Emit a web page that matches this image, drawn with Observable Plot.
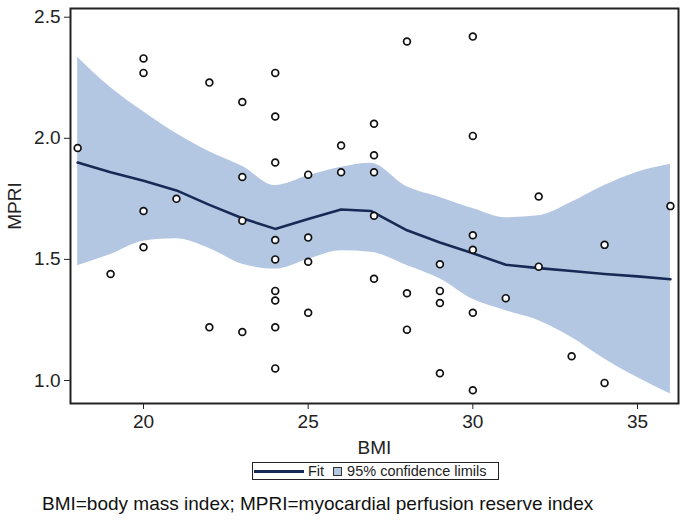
<!DOCTYPE html>
<html>
<head>
<meta charset="utf-8">
<script src="https://cdn.jsdelivr.net/npm/d3@7"></script>
<script src="https://cdn.jsdelivr.net/npm/@observablehq/plot@0.6"></script>
<style>
  html, body { margin: 0; padding: 0; background: #fff; }
  body { width: 685px; height: 522px; position: relative; font-family: "Liberation Sans", Arial, sans-serif; }
  #chart { position: absolute; left: 0; top: 0; }
  #legend { position: absolute; left: 252px; top: 462px; width: 245px; height: 16px; border: 1px solid #222;
            font-size: 14.5px; line-height: 16px; color: #222; display: flex; align-items: center; white-space: nowrap; background: #fff; }
  #legend .ln { display: inline-block; width: 50px; height: 3px; background: #172a55; margin-left: 1px; margin-right: 4px; }
  #legend .sq { display: inline-block; width: 7px; height: 7px; background: #b4c7e2; border: 1px solid #333; margin-left: 9px; margin-right: 5px; }
  #caption { position: absolute; left: 42px; top: 493px; font-size: 19px; color: #111; white-space: nowrap; }
</style>
</head>
<body>
<div id="chart"></div>
<div id="legend"><span class="ln"></span><span>Fit</span><span class="sq"></span><span>95% confidence limils</span></div>
<div id="caption">BMI=body mass index; MPRI=myocardial perfusion reserve index</div>
<script>
// Scatter points
const bmi  = [18, 19, 20, 20, 20, 20, 21, 22, 22, 23, 23, 23, 23,
              24, 24, 24, 24, 24, 24, 24, 24, 24,
              25, 25, 25, 25, 26, 26, 27, 27, 27, 27, 27,
              28, 28, 28, 29, 29, 29, 29, 30, 30, 30, 30, 30, 30,
              31, 32, 32, 33, 34, 34, 36];
const mpri = [1.96, 1.44, 2.33, 2.27, 1.70, 1.55, 1.75, 2.23, 1.22, 2.15, 1.84, 1.66, 1.20,
              2.27, 2.09, 1.90, 1.58, 1.50, 1.37, 1.33, 1.22, 1.05,
              1.85, 1.59, 1.49, 1.28, 1.97, 1.86, 2.06, 1.93, 1.86, 1.68, 1.42,
              2.40, 1.36, 1.21, 1.48, 1.37, 1.32, 1.03, 2.42, 2.01, 1.60, 1.54, 1.28, 0.96,
              1.34, 1.76, 1.47, 1.10, 1.56, 0.99, 1.72];

// Fit line and 95% confidence limits
const fitX  = [18, 19, 20, 21, 22, 23, 24, 25, 26, 26.9, 28, 29, 30, 31, 32, 33, 34, 35, 36];
const fitY  = [1.90, 1.86, 1.825, 1.785, 1.725, 1.67, 1.626, 1.667, 1.706, 1.70, 1.62, 1.57, 1.525, 1.478, 1.464, 1.452, 1.44, 1.43, 1.418];
const upper = [2.335, 2.21, 2.11, 2.02, 1.945, 1.885, 1.805, 1.845, 1.88, 1.897, 1.80, 1.756, 1.71, 1.672, 1.68, 1.736, 1.805, 1.86, 1.893];
const lower = [1.474, 1.52, 1.575, 1.585, 1.545, 1.48, 1.46, 1.50, 1.536, 1.53, 1.475, 1.42, 1.335, 1.288, 1.247, 1.178, 1.089, 1.012, 0.944];

const xTicks = [20, 25, 30, 35];
const yTicks = [1.0, 1.5, 2.0, 2.5];

const points = bmi.map((b, i) => ({bmi: b, mpri: mpri[i]}));
const fit = fitX.map((x, i) => ({x, y: fitY[i], lo: lower[i], hi: upper[i]}));

const chart = Plot.plot({
  width: 685,
  height: 470,
  marginLeft: 70,
  marginRight: 7,
  marginTop: 8,
  marginBottom: 67,
  style: {fontFamily: "Liberation Sans, Arial, sans-serif", color: "#222", background: "#fff"},
  x: {domain: [17.783, 36.245]},
  y: {domain: [0.905, 2.536]},
  marks: [
    Plot.areaY(fit, {x: "x", y1: "lo", y2: "hi", fill: "#b4c7e2", curve: "monotone-x"}),
    Plot.line(fit, {x: "x", y: "y", stroke: "#172a55", strokeWidth: 2.6, curve: "linear"}),
    Plot.dot(points, {x: "bmi", y: "mpri", r: 3.4, stroke: "#111", strokeWidth: 1.7, fill: "#fff"}),
    Plot.axisX({ticks: xTicks, tickSize: 6, tickPadding: 5, fontSize: 19, tickFormat: d => d,
                label: "BMI", labelAnchor: "center", labelArrow: "none", labelOffset: 50}),
    Plot.axisY({ticks: yTicks, tickSize: 6, tickPadding: 4, fontSize: 19, tickFormat: d3.format(".1f"),
                label: "MPRI", labelAnchor: "center", labelArrow: "none", labelOffset: 63}),
    Plot.frame({stroke: "#222", strokeWidth: 2})
  ]
});
document.getElementById("chart").appendChild(chart);
</script>
</body>
</html>
